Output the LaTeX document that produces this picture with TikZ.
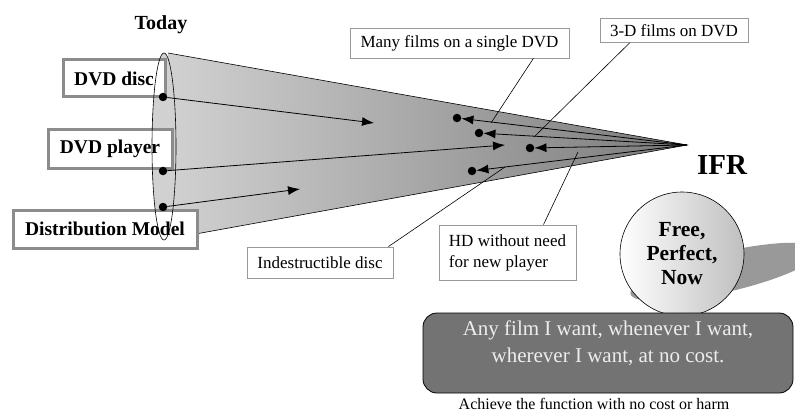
\documentclass[tikz,border=0pt]{standalone}
\usepackage{fontspec}
\setmainfont{Liberation Serif}
\usetikzlibrary{arrows.meta, positioning}

\tikzset{
  nowbox/.style={draw=black!45, line width=3pt, fill=white, inner sep=0pt,
    font=\fontsize{19.5}{22}\selectfont\bfseries},
  ideabox/.style={draw=black!40, line width=0.8pt, fill=white, inner sep=0pt,
    font=\fontsize{17}{21}\selectfont},
  spot/.style={circle, fill=black, inner sep=0pt, minimum size=8.5pt},
  push/.style={-{Latex[length=12pt,width=9pt]}, line width=0.8pt},
  leader/.style={line width=0.6pt}
}

\begin{document}
\begin{tikzpicture}[x=1pt, y=-1pt]
\useasboundingbox (0,0) rectangle (795,417);

\coordinate (apex) at (687,145);
\coordinate (top) at (168,53);
\coordinate (bot) at (168,239);
\fill[black!18] (164,146.5) ellipse [x radius=12pt, y radius=93.5pt];
\shade[left color=black!18, right color=black!52] (top) -- (apex) -- (bot) -- cycle;
\draw[line width=0.6pt] (top) -- (apex) -- (bot);

\node[font=\fontsize{20}{24}\selectfont\bfseries] (today) at (161,25) {Today};
\node[nowbox, minimum width=102pt, minimum height=37pt] (disc) at (114,78.5) {DVD disc};
\node[nowbox, minimum width=124pt, minimum height=38pt] (player) at (110,149) {DVD player};
\node[nowbox, minimum width=184pt, minimum height=38pt] (model) at (105,229) {Distribution Model};
\draw[line width=0.6pt] (164,146.5) ellipse [x radius=12pt, y radius=93.5pt];

\node[spot] (disc dot) at (163,97) {};
\node[spot] (player dot) at (163,171) {};
\node[spot] (model dot) at (163,207) {};
\coordinate (disc end) at (374,123);
\coordinate (player end) at (505,145);
\coordinate (model end) at (300,189);
\draw[push] (disc dot) -- (disc end);
\draw[push] (player dot) -- (player end);
\draw[push] (model dot) -- (model end);

\node[spot] (idea1) at (457,118) {};
\node[spot] (idea2) at (479,133) {};
\node[spot] (idea3) at (530,148) {};
\node[spot] (idea4) at (472,171) {};
\draw[push] (apex) -- (idea1);
\draw[push] (apex) -- (idea2);
\draw[push] (apex) -- (idea3);
\draw[push] (apex) -- (idea4);

\node[ideabox, minimum width=219pt, minimum height=30pt] (many) at (459.5,43) {Many films on a single DVD};
\node[ideabox, minimum width=148pt, minimum height=24pt] (threed) at (674,30.5) {3-D films on DVD};
\node[ideabox, minimum width=146pt, minimum height=31pt] (tough) at (320,262.5) {Indestructible disc};
\node[ideabox, minimum width=137pt, minimum height=55pt, align=left] (hd) at (507.5,252.5) {HD without need\\for new player};

\coordinate (many tip) at (491,123);
\coordinate (threed tip) at (534,137);
\coordinate (tough tip) at (505,167);
\coordinate (hd tip) at (578,152);
\draw[leader] ([xshift=-36pt]many.south east) -- (many tip);
\draw[leader] ([xshift=30pt]threed.south west) -- (threed tip);
\draw[leader] ([xshift=-5pt]tough.north east) -- (tough tip);
\draw[leader] ([xshift=36pt]hd.north) -- (hd tip);

\node[font=\fontsize{29}{34}\selectfont\bfseries] (ifr) at (722,165) {IFR};

\fill[black!40, rotate around={13:(725,272)}] (725,272) ellipse [x radius=97pt, y radius=20pt];
\node[circle, draw, line width=0.6pt, minimum size=124pt, inner sep=0pt,
  left color=white, right color=black!25, align=center,
  font=\fontsize{21.5}{24}\selectfont\bfseries] (ball) at (682,254) {Free,\\Perfect,\\Now};

\draw[line width=0.8pt, fill=black!55, rounded corners=14pt] (423,313) rectangle (793,393);
\node[text=black!7, align=center, font=\fontsize{21}{27}\selectfont] (wish) at (608,343)
  {Any film I want, whenever I want,\\wherever I want, at no cost.};
\node[font=\fontsize{16}{19}\selectfont] (aim) at (594,404) {Achieve the function with no cost or harm};
\end{tikzpicture}
\end{document}
